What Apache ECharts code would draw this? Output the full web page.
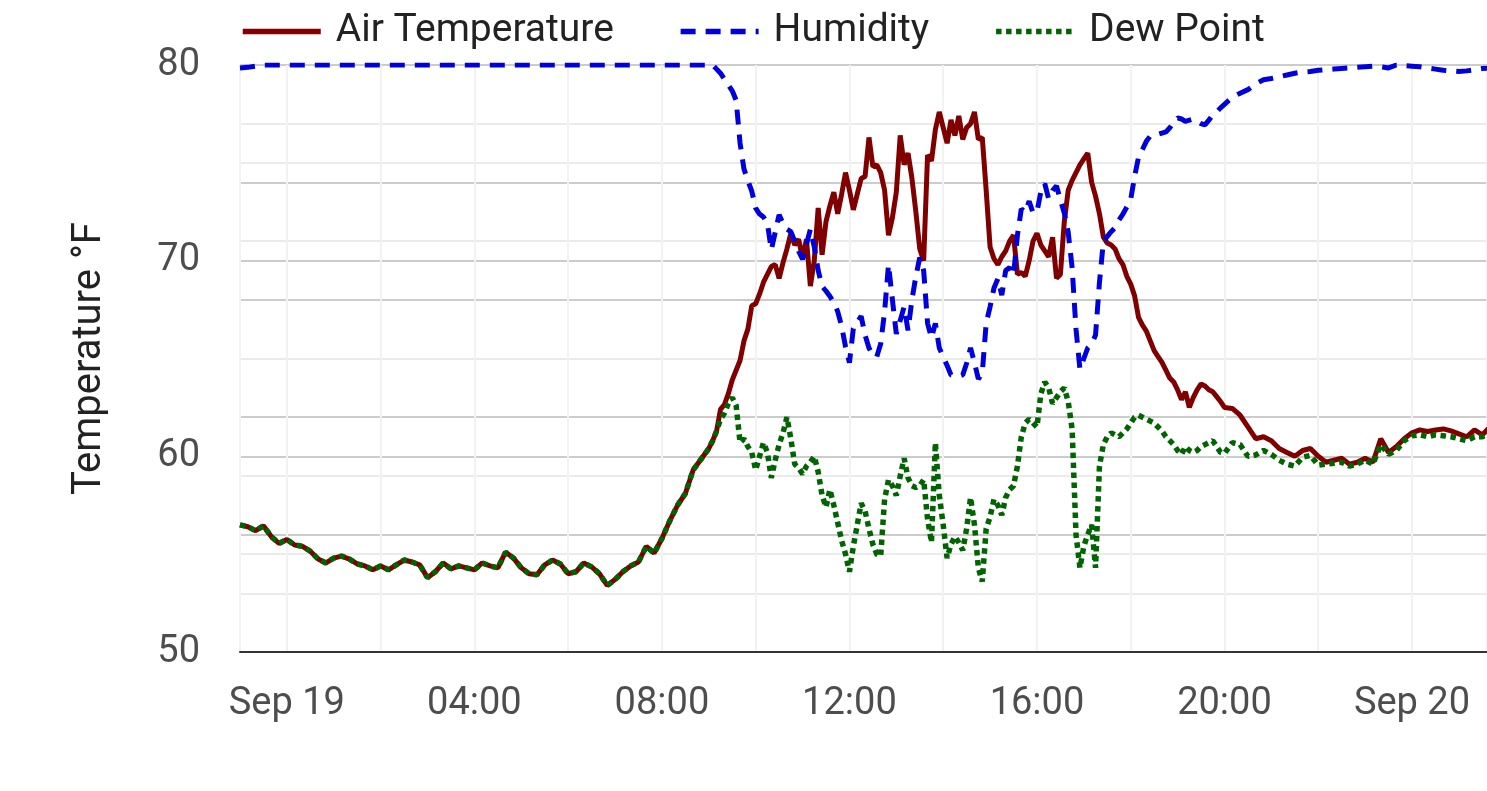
<!DOCTYPE html>
<html>
<head>
<meta charset="utf-8">
<title>Air Temperature, Humidity and Dew Point</title>
<script src="https://cdn.jsdelivr.net/npm/echarts@6/dist/echarts.min.js"></script>
<style>
  html, body { margin: 0; padding: 0; background: #fff; }
  #chart { width: 1487px; height: 791px; }
</style>
</head>
<body>
<div id="chart"></div>
<script>
// sampling: 10 min overnight, 5 min through the day, 10 min again in the evening
const sampleBlocks = [
  { start: [2024, 8, 18, 23, 0], stepMin: 10, count: 60 },
  { start: [2024, 8, 19, 9, 0], stepMin: 5, count: 132 },
  { start: [2024, 8, 19, 20, 0], stepMin: 10, count: 35 }
];

const axisStart = [2024, 8, 18, 23, 0];
const axisEnd = [2024, 8, 20, 1, 36];
const monthNames = ['Jan', 'Feb', 'Mar', 'Apr', 'May', 'Jun', 'Jul', 'Aug', 'Sep', 'Oct', 'Nov', 'Dec'];
const legendNames = ['Air Temperature', 'Humidity', 'Dew Point'];

// air temperature, °F
const tempNight = [
  56.5, 56.4, 56.2, 56.45, 55.9, 55.55, 55.75, 55.47, 55.4, 55.15,
  54.75, 54.55, 54.8, 54.9, 54.75, 54.5, 54.4, 54.2, 54.4, 54.2,
  54.45, 54.7, 54.6, 54.45, 53.8, 54.1, 54.55, 54.25, 54.4, 54.3,
  54.2, 54.55, 54.4, 54.3, 55.1, 54.8, 54.3, 54.0, 53.95, 54.45,
  54.7, 54.5, 54.0, 54.1, 54.55, 54.35, 54.0, 53.4, 53.7, 54.1,
  54.4, 54.6, 55.4, 55.05, 55.8, 56.7, 57.5, 58.1, 59.3, 59.85
];
const tempDay = [
  60.4, 60.8, 61.3, 62.4, 62.65, 63.2, 63.9, 64.4, 64.9, 65.9,
  66.5, 67.7, 67.8, 68.3, 68.9, 69.3, 69.7, 69.8, 69.1, 69.9,
  70.6, 71.4, 70.8, 71.1, 70.1, 71.1, 68.7, 70.0, 72.7, 70.3,
  72.0, 72.8, 73.5, 72.4, 73.4, 74.5, 73.6, 72.6, 73.4, 74.2,
  74.3, 76.3, 74.8, 74.9, 74.5, 73.6, 71.3, 72.2, 73.5, 76.4,
  74.9, 75.5, 74.2, 72.5, 70.6, 70.0, 75.4, 75.1, 76.7, 77.6,
  76.8, 76.0, 77.2, 76.4, 77.4, 76.2, 76.8, 77.0, 77.6, 76.2,
  76.3, 73.6, 70.7, 70.1, 69.8, 70.2, 70.5, 71.0, 71.3, 69.3,
  69.4, 69.2, 70.0, 71.0, 71.4, 70.8, 70.5, 70.2, 71.2, 69.1,
  69.3, 72.0, 73.6, 74.1, 74.5, 74.9, 75.2, 75.5, 74.0, 73.3,
  72.4, 71.2, 70.9, 70.8, 70.6, 70.1, 69.8, 69.2, 68.8, 68.2,
  67.1, 66.7, 66.4, 65.9, 65.4, 65.1, 64.8, 64.4, 64.0, 63.8,
  63.4, 62.9, 63.3, 62.5, 63.0, 63.4, 63.7, 63.6, 63.4, 63.3,
  63.05, 62.8
];
const tempEve = [
  62.5, 62.45, 62.1, 61.5, 60.9, 61.0, 60.8, 60.4, 60.2, 60.0,
  60.3, 60.4, 60.0, 59.7, 59.8, 59.9, 59.6, 59.7, 59.9, 59.7,
  60.9, 60.2, 60.5, 60.9, 61.2, 61.35, 61.27, 61.35, 61.4, 61.3,
  61.15, 61.0, 61.35, 61.1, 61.5
];

// relative humidity, % (drawn on the hidden right axis)
const humNight = [
  99.5, 99.6, 99.8, 100, 100, 100, 100, 100, 100, 100,
  100, 100, 100, 100, 100, 100, 100, 100, 100, 100,
  100, 100, 100, 100, 100, 100, 100, 100, 100, 100,
  100, 100, 100, 100, 100, 100, 100, 100, 100, 100,
  100, 100, 100, 100, 100, 100, 100, 100, 100, 100,
  100, 100, 100, 100, 100, 100, 100, 100, 100, 100
];
const humDay = [
  100, 100, 99.3, 98.6, 97.6, 96.6, 95.6, 94.0, 86.7, 82.3,
  80.3, 78.5, 75.6, 74.6, 74.1, 73.0, 68.5, 71.5, 74.5, 73.0,
  72.0, 71.6, 70.0, 68.3, 66.9, 69.5, 72.0, 69.0, 65.0, 62.3,
  61.5, 60.6, 59.5, 58.0, 55.5, 52.0, 49.3, 55.1, 56.2, 57.2,
  54.0, 51.8, 50.5, 50.3, 52.5, 58.0, 66.0, 60.0, 54.2, 56.5,
  58.8, 54.8, 60.0, 64.0, 67.2, 65.0, 56.0, 53.5, 56.0, 51.8,
  50.3, 48.8, 47.2, 47.1, 47.0, 47.2, 49.2, 51.8, 49.3, 46.5,
  47.5, 56.0, 58.8, 62.0, 63.6, 60.8, 65.0, 65.5, 64.2, 71.0,
  75.5, 74.9, 76.8, 74.8, 75.0, 78.4, 79.8, 77.2, 78.6, 79.4,
  77.0, 74.8, 71.5, 65.5, 55.0, 48.2, 50.0, 51.8, 52.5, 54.0,
  63.0, 69.9, 70.8, 71.6, 72.3, 73.6, 74.6, 75.8, 77.1, 81.0,
  84.3, 85.6, 87.0, 87.9, 88.0, 88.2, 88.4, 88.6, 89.3, 90.2,
  91.0, 90.8, 90.4, 90.6, 90.8, 90.4, 90.0, 89.8, 90.6, 91.5,
  92.0, 92.7
];
const humEve = [
  93.3, 94.5, 95.2, 95.8, 96.8, 97.5, 97.7, 98.0, 98.3, 98.6,
  98.8, 98.9, 99.1, 99.2, 99.3, 99.4, 99.5, 99.6, 99.7, 99.8,
  99.7, 99.5, 100, 99.9, 99.8, 99.7, 99.5, 99.3, 99.1, 99.0,
  98.9, 99.0, 99.2, 99.4, 99.5
];

// dew point, °F
const dewNight = [
  56.5, 56.4, 56.2, 56.45, 55.9, 55.55, 55.75, 55.47, 55.4, 55.15,
  54.75, 54.55, 54.8, 54.9, 54.75, 54.5, 54.4, 54.2, 54.4, 54.2,
  54.45, 54.7, 54.6, 54.45, 53.8, 54.1, 54.55, 54.25, 54.4, 54.3,
  54.2, 54.55, 54.4, 54.3, 55.1, 54.8, 54.3, 54.0, 53.95, 54.45,
  54.7, 54.5, 54.0, 54.1, 54.55, 54.35, 54.0, 53.4, 53.7, 54.1,
  54.4, 54.6, 55.4, 55.05, 55.8, 56.7, 57.5, 58.1, 59.3, 59.85
];
const dewDay = [
  60.4, 60.8, 61.3, 61.9, 62.2, 62.7, 63.0, 62.6, 60.7, 60.9,
  60.5, 60.2, 59.3, 60.0, 60.7, 60.2, 58.9, 59.8, 60.6, 61.2,
  62.0, 60.9, 59.6, 59.4, 59.1, 59.5, 59.7, 60.0, 59.2, 58.0,
  57.4, 58.3, 57.5, 56.6, 55.7, 55.0, 54.1, 55.4, 56.5, 57.6,
  57.2, 56.3, 55.5, 55.0, 54.9, 57.8, 58.8, 58.5, 58.0, 59.0,
  59.9, 58.9, 58.5, 58.4, 58.5, 58.8, 56.8, 55.6, 60.7, 58.0,
  56.5, 54.8, 55.5, 55.9, 55.6, 55.2, 56.3, 57.9, 56.5, 54.3,
  53.6, 56.3, 56.9, 57.8, 57.5, 57.0, 57.9, 58.3, 58.5, 59.5,
  61.0, 61.7, 61.9, 61.7, 61.5, 63.2, 63.8, 63.5, 62.7, 63.0,
  63.3, 63.5, 62.8, 61.4, 56.0, 54.3, 55.4, 56.0, 56.5, 54.3,
  59.5, 60.6, 61.0, 61.2, 61.1, 61.0, 61.2, 61.4, 61.7, 62.0,
  62.1, 62.0, 61.9, 61.8, 61.7, 61.5, 61.3, 61.0, 60.8, 60.6,
  60.3, 60.1, 60.5, 60.3, 60.2, 60.3, 60.5, 60.6, 60.7, 60.8,
  60.5, 60.2
];
const dewEve = [
  60.15, 60.7, 60.6, 60.0, 60.07, 60.3, 60.1, 59.8, 59.6, 59.5,
  59.95, 60.05, 59.55, 59.6, 59.65, 59.7, 59.5, 59.6, 59.8, 59.6,
  60.6, 60.1, 60.3, 60.8, 61.05, 61.1, 61.0, 61.1, 61.05, 61.0,
  60.9, 60.8, 61.0, 61.0, 61.2
];

function toTime(parts) {
  return new Date(parts[0], parts[1], parts[2], parts[3], parts[4]).getTime();
}

const times = [];
sampleBlocks.forEach(function (b) {
  const t0 = toTime(b.start);
  for (let i = 0; i < b.count; i++) times.push(t0 + i * b.stepMin * 60000);
});

function pair(values) {
  return values.map(function (v, i) { return [times[i], v]; });
}

const temperature = tempNight.concat(tempDay, tempEve);
const humidity = humNight.concat(humDay, humEve);
const dewPoint = dewNight.concat(dewDay, dewEve);

const gridDark = '#cccccc';
const gridLight = '#ebebeb';
const tickSize = 38;
const HOUR = 3600 * 1000;

const chart = echarts.init(document.getElementById('chart'));
chart.setOption({
  animation: false,
  textStyle: { fontFamily: 'Roboto' },
  legend: {
    data: legendNames,
    left: 240,
    top: 12,
    padding: 0,
    itemWidth: 78,
    itemHeight: 20,
    itemGap: 64,
    itemStyle: { opacity: 0 },
    lineStyle: { width: 5.5 },
    textStyle: { fontSize: 39, color: '#222', padding: [0, 0, 0, 10] }
  },
  grid: { left: 240, right: 0, top: 65, bottom: 139 },
  xAxis: {
    type: 'time',
    min: toTime(axisStart),
    max: toTime(axisEnd),
    minInterval: 2.5 * HOUR,
    maxInterval: 2.5 * HOUR,
    axisLine: { lineStyle: { color: '#333', width: 2 } },
    axisTick: { show: false },
    axisLabel: {
      fontSize: tickSize,
      color: '#4d4d4d',
      margin: 33,
      formatter: function (value) {
        const d = new Date(value);
        const h = d.getHours();
        if (d.getMinutes() !== 0 || h % 4 !== 0) return '';
        if (h === 0) return monthNames[d.getMonth()] + ' ' + d.getDate();
        return (h < 10 ? '0' : '') + h + ':00';
      }
    },
    splitLine: { show: true, lineStyle: { color: '#f2f2f2', width: 2 } }
  },
  yAxis: [
    {
      type: 'value',
      min: 50,
      max: 80,
      interval: 10,
      name: 'Temperature °F',
      nameLocation: 'middle',
      nameGap: 130,
      nameTextStyle: { fontSize: 40, color: '#222' },
      axisLine: { show: false },
      axisTick: { show: false },
      axisLabel: { fontSize: tickSize, color: '#4d4d4d', margin: 40 },
      splitLine: { lineStyle: { color: gridDark, width: 2 } },
      minorTick: { show: false, splitNumber: 2 },
      minorSplitLine: { show: true, lineStyle: { color: gridLight, width: 2 } }
    },
    {
      type: 'value',
      min: 0,
      max: 100,
      interval: 20,
      position: 'right',
      axisLine: { show: false },
      axisTick: { show: false },
      axisLabel: { show: false },
      splitLine: { lineStyle: { color: gridDark, width: 2 } },
      minorTick: { show: false, splitNumber: 2 },
      minorSplitLine: { show: true, lineStyle: { color: gridLight, width: 2 } }
    }
  ],
  series: [
    {
      name: legendNames[0],
      type: 'line',
      symbol: 'none',
      data: pair(temperature),
      lineStyle: { color: '#800000', width: 5 },
      itemStyle: { color: '#800000' }
    },
    {
      name: legendNames[1],
      type: 'line',
      yAxisIndex: 1,
      symbol: 'none',
      data: pair(humidity),
      lineStyle: { color: '#0000dd', width: 5, type: [15, 10] },
      itemStyle: { color: '#0000dd' }
    },
    {
      name: legendNames[2],
      type: 'line',
      symbol: 'none',
      data: pair(dewPoint),
      lineStyle: { color: '#006400', width: 5.5, type: [5.5, 4.5] },
      itemStyle: { color: '#006400' }
    }
  ]
});
</script>
</body>
</html>
